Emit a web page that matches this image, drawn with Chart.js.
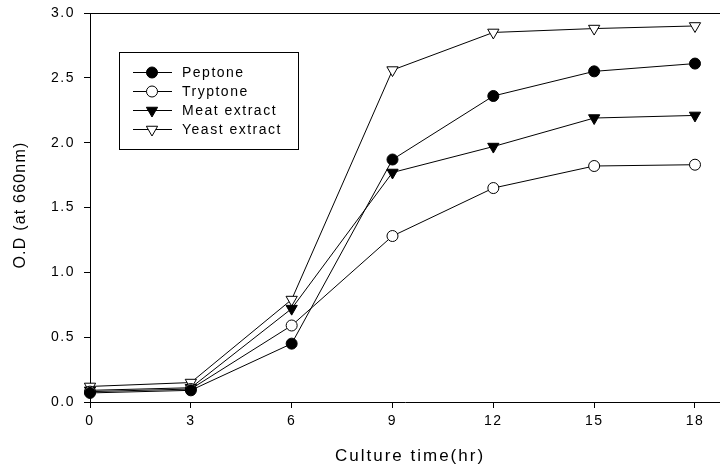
<!DOCTYPE html>
<html>
<head>
<meta charset="utf-8">
<script src="https://cdn.jsdelivr.net/npm/chart.js@4"></script>
<style>
  html, body { margin: 0; padding: 0; background: #fff; overflow: hidden; }
  canvas { display: block; }
</style>
</head>
<body>
<canvas id="odChart" width="720" height="473"></canvas>
<script>
var hours = [0, 3, 6, 9, 12, 15, 18];
var peptone = [0.07, 0.09, 0.45, 1.87, 2.36, 2.55, 2.61];
var tryptone = [0.08, 0.10, 0.59, 1.28, 1.65, 1.82, 1.83];
var meatExtract = [0.09, 0.11, 0.72, 1.77, 1.97, 2.19, 2.21];
var yeastExtract = [0.12, 0.15, 0.79, 2.56, 2.85, 2.88, 2.90];
var xTicks = [0, 3, 6, 9, 12, 15, 18];
var yTicks = [0, 0.5, 1.0, 1.5, 2.0, 2.5, 3.0];

var FONT = '"Liberation Sans", Arial, sans-serif';

function pts(ys) {
  return hours.map(function (h, i) { return { x: h, y: ys[i] }; });
}

function series(label, ys, style, fill) {
  var tri = style === 'triangle';
  return {
    label: label,
    data: pts(ys),
    borderColor: '#000',
    borderWidth: 1,
    backgroundColor: fill,
    pointStyle: style,
    pointRotation: tri ? 180 : 0,
    pointRadius: tri ? 6.5 : 5.5,
    pointBorderWidth: 1,
    pointBorderColor: '#000',
    pointBackgroundColor: fill,
    clip: false,
    tension: 0
  };
}

// legend box + titles + top frame line
var extras = {
  id: 'extras',
  beforeDraw: function (chart) {
    chart.ctx.letterSpacing = '1.5px';
  },
  afterDraw: function (chart) {
    var ctx = chart.ctx;
    var a = chart.chartArea;
    ctx.save();
    ctx.strokeStyle = '#000';
    ctx.lineWidth = 1;
    ctx.beginPath();
    ctx.moveTo(a.left, a.top + 0.5);
    ctx.lineTo(a.right, a.top + 0.5);
    ctx.stroke();

    // legend
    ctx.strokeRect(119.5, 52.5, 179, 97);
    var rows = [72, 91, 110, 129];
    chart.data.datasets.forEach(function (ds, i) {
      var y = rows[i];
      ctx.beginPath();
      ctx.moveTo(133, y + 0.5);
      ctx.lineTo(172, y + 0.5);
      ctx.stroke();
      ctx.fillStyle = ds.pointBackgroundColor;
      Chart.helpers.drawPoint(ctx, {
        pointStyle: ds.pointStyle,
        rotation: ds.pointRotation,
        radius: ds.pointRadius,
        borderWidth: 1
      }, 152, y + 0.5);
      ctx.fillStyle = '#000';
      ctx.font = '14px ' + FONT;
      ctx.textBaseline = 'middle';
      ctx.textAlign = 'left';
      ctx.letterSpacing = '1.5px';
      ctx.fillText(ds.label, 182, y + 1);
    });

    // axis titles
    ctx.fillStyle = '#000';
    ctx.textAlign = 'center';
    ctx.textBaseline = 'middle';
    ctx.font = '17px ' + FONT;
    ctx.letterSpacing = '2px';
    ctx.fillText('Culture time(hr)', 410, 456);
    ctx.translate(21, 205);
    ctx.rotate(-Math.PI / 2);
    ctx.font = '16px ' + FONT;
    ctx.letterSpacing = '1.2px';
    ctx.fillText('O.D (at 660nm)', 0, 0);
    ctx.restore();
  }
};

var ctx = document.getElementById('odChart');

var odChart = new Chart(ctx, {
  type: 'line',
  data: {
    datasets: [
      series('Peptone', peptone, 'circle', '#000'),
      series('Tryptone', tryptone, 'circle', '#fff'),
      series('Meat extract', meatExtract, 'triangle', '#000'),
      series('Yeast extract', yeastExtract, 'triangle', '#fff')
    ]
  },
  options: {
    responsive: false,
    animation: false,
    layout: { autoPadding: false, padding: { top: 13, right: 0, left: 0, bottom: 0 } },
    scales: {
      x: {
        type: 'linear',
        min: 0,
        max: 18.744,
        afterBuildTicks: function (axis) {
          axis.ticks = xTicks.map(function (v) { return { value: v }; });
        },
        afterFit: function (scale) {
          scale.height = 71;
          scale.paddingLeft = 0;
          scale.paddingRight = 0;
        },
        grid: { display: true, drawOnChartArea: false, drawTicks: true, tickLength: 6, color: '#000' },
        border: { display: true, color: '#000', width: 1 },
        ticks: {
          color: '#000',
          padding: 5,
          maxRotation: 0,
          font: { family: FONT, size: 14 },
          callback: function (v) { return String(v); }
        }
      },
      y: {
        min: 0,
        max: 3,
        afterBuildTicks: function (axis) {
          axis.ticks = yTicks.map(function (v) { return { value: v }; });
        },
        afterFit: function (scale) {
          scale.width = 90;
          scale.paddingTop = 0;
          scale.paddingBottom = 0;
        },
        grid: { display: true, drawOnChartArea: false, drawTicks: true, tickLength: 6, color: '#000' },
        border: { display: true, color: '#000', width: 1 },
        ticks: {
          color: '#000',
          padding: 9,
          font: { family: FONT, size: 14 },
          callback: function (v) { return Number(v).toFixed(1); }
        }
      }
    },
    plugins: {
      legend: { display: false },
      tooltip: { enabled: false }
    }
  },
  plugins: [extras]
});
</script>
</body>
</html>
